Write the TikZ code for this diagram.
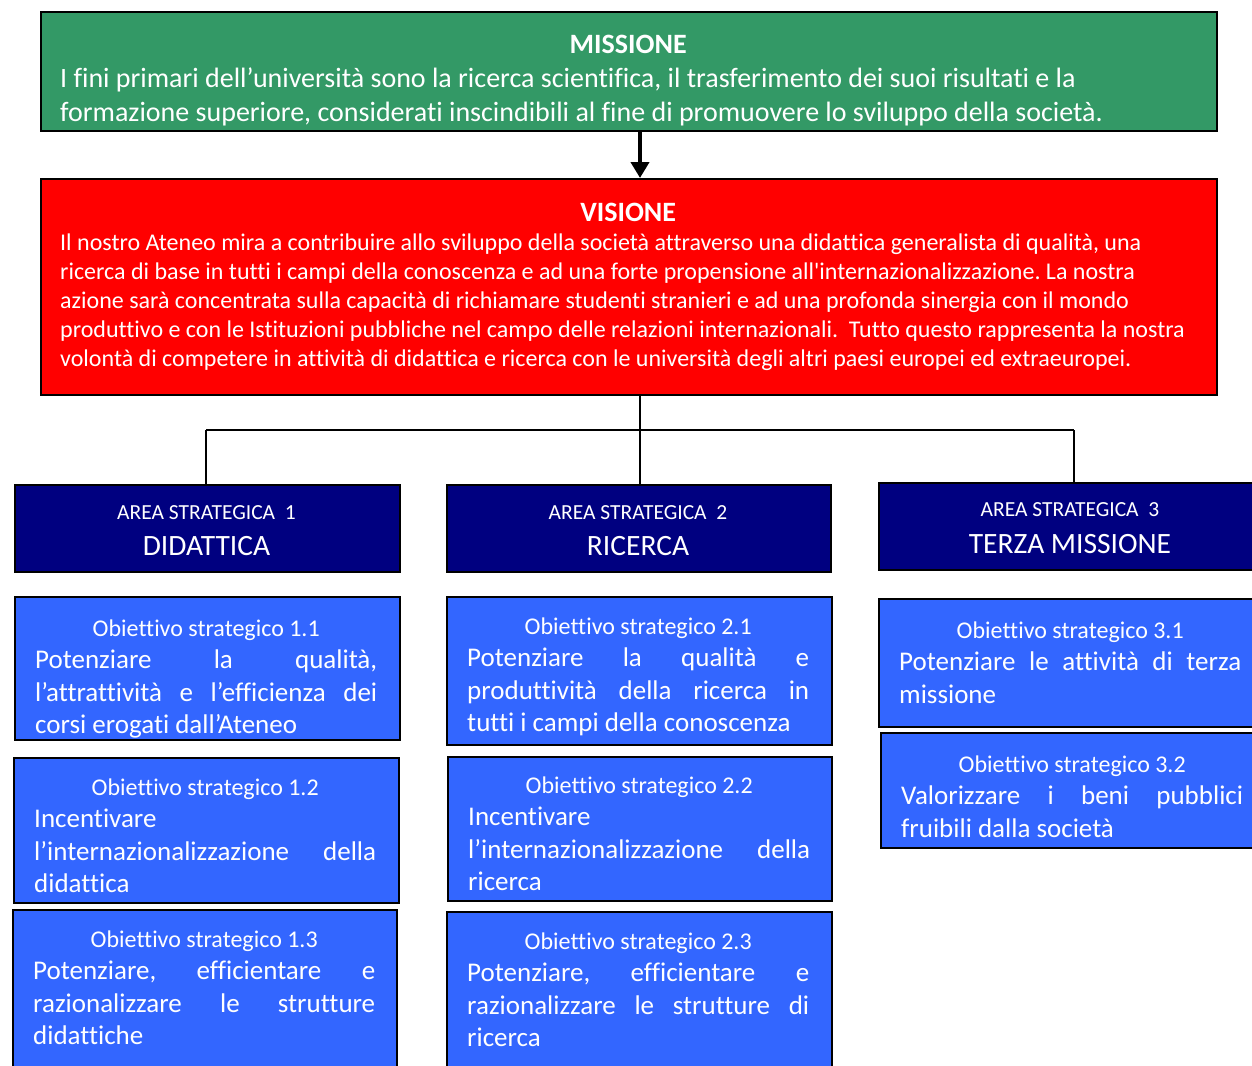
\documentclass[tikz,border=0pt]{standalone}
\usepackage{fontspec}
\setmainfont{Carlito}[Ligatures={TeXOff,NoCommon}]
\usetikzlibrary{arrows.meta,shadows}
\frenchspacing
\definecolor{mgreen}{RGB}{51,153,102}
\definecolor{vred}{RGB}{255,0,0}
\definecolor{navyb}{RGB}{0,0,128}
\definecolor{oblue}{RGB}{51,102,255}
\newcommand\jline[1]{\makebox[\linewidth][s]{#1}\par}
\newcommand\lline[1]{\makebox[\linewidth][l]{#1}\par}
\newcommand\objtext[2]{\parbox[t]{342pt}{\fontsize{24}{32.5}\selectfont\centering #1\par\fontsize{27}{32.5}\selectfont\raggedright #2}}
\tikzset{
  x=1pt,y=-1pt,
  boxbase/.style={draw=black,line width=1.8pt,inner sep=0pt,anchor=north west,
    drop shadow={shadow xshift=1.5pt,shadow yshift=-1.5pt,fill=black,opacity=0.35}},
  misbox/.style={boxbase,fill=mgreen},
  visbox/.style={boxbase,fill=vred},
  areabox/.style={boxbase,fill=navyb},
  objbox/.style={boxbase,fill=oblue},
  txt/.style={inner sep=0pt,text=white,anchor=base west},
  areasmall/.style={inner sep=0pt,text=white,anchor=base,font=\fontsize{21.5}{24}\selectfont},
  areabig/.style={inner sep=0pt,text=white,anchor=base,font=\fontsize{29.5}{32}\selectfont},
  conn/.style={line width=1.8pt,draw=black}
}
\begin{document}
\begin{tikzpicture}
\useasboundingbox (0,0) rectangle (1252,1065);
\clip (0,0) rectangle (1252,1065);
\fill[white] (0,0) rectangle (1252,1065);

% MISSIONE
\node[misbox,minimum width=1176pt,minimum height=119pt] (mis) at (40,11) {};
\node[txt] (mist) at (60,53) {\parbox[t]{1136pt}{\fontsize{28}{34}\selectfont
  \centering\textbf{MISSIONE}\par\raggedright
  I fini primari dell’università sono la ricerca scientifica, il trasferimento dei suoi risultati e la\par
  formazione superiore, considerati inscindibili al fine di promuovere lo sviluppo della società.\par}};

% VISIONE
\node[visbox,minimum width=1176pt,minimum height=216pt] (vis) at (40,178) {};
\node[txt] (vist) at (60,221) {\parbox[t]{1150pt}{\fontsize{24}{29}\selectfont
  \makebox[1136pt][c]{\fontsize{28}{29}\selectfont\textbf{VISIONE}}\par\raggedright
  Il nostro Ateneo mira a contribuire allo sviluppo della società attraverso una didattica generalista di qualità, una\par
  ricerca di base in tutti i campi della conoscenza e ad una forte propensione all'internazionalizzazione. La nostra\par
  azione sarà concentrata sulla capacità di richiamare studenti stranieri e ad una profonda sinergia con il mondo\par
  produttivo e con le Istituzioni pubbliche nel campo delle relazioni internazionali.\ \ Tutto questo rappresenta la nostra\par
  volontà di competere in attività di didattica e ricerca con le università degli altri paesi europei ed extraeuropei.\par}};

\coordinate (ax) at (640,0);
\coordinate (j1) at (206,430);
\coordinate (j3) at (1074,430);

% AREE
\node[areabox,minimum width=385pt,minimum height=87pt] (a1) at (14,484) {};
\node[areabox,minimum width=384pt,minimum height=87pt] (a2) at (446,484) {};
\node[areabox,minimum width=384pt,minimum height=87pt] (a3) at (878,482) {};
\node[areasmall] (a1s) at (206.5,519) {AREA STRATEGICA\ \ 1};
\node[areabig] (a1b) at (206.5,555) {DIDATTICA};
\node[areasmall] (a2s) at (638,519) {AREA STRATEGICA\ \ 2};
\node[areabig] (a2b) at (638,555) {RICERCA};
\node[areasmall] (a3s) at (1070,516) {AREA STRATEGICA\ \ 3};
\node[areabig] (a3b) at (1070,553) {TERZA MISSIONE};

% connectors
\draw[line width=4pt,-{Triangle[width=18pt,length=16pt]}] (mis.south -| ax) -- (vis.north -| ax);
\draw[conn] (vis.south -| ax) -- (a2.north -| ax);
\draw[conn] (j1) -- (j3);
\draw[conn] (j1) -- (a1.north -| j1);
\draw[conn] (j3) -- (a3.north -| j3);

% OBIETTIVI colonna 1
\node[objbox,minimum width=385pt,minimum height=143pt] (o11) at (14,596) {};
\node[txt] (o11t) at (35,636) {\objtext{Obiettivo strategico 1.1}{%
  \jline{Potenziare la qualità,}\jline{l’attrattività e l’efficienza dei}\lline{corsi erogati dall’Ateneo}}};
\node[objbox,minimum width=385pt,minimum height=145pt] (o12) at (13,757) {};
\node[txt] (o12t) at (34,795) {\objtext{Obiettivo strategico 1.2}{%
  \lline{Incentivare}\jline{l’internazionalizzazione della}\lline{didattica}}};
\node[objbox,minimum width=384pt,minimum height=180pt] (o13) at (12,909) {};
\node[txt] (o13t) at (33,947) {\objtext{Obiettivo strategico 1.3}{%
  \jline{Potenziare, efficientare e}\jline{razionalizzare le strutture}\lline{didattiche}}};

% colonna 2
\node[objbox,minimum width=385pt,minimum height=148pt] (o21) at (446,596) {};
\node[txt] (o21t) at (467,634) {\objtext{Obiettivo strategico 2.1}{%
  \jline{Potenziare la qualità e}\jline{produttività della ricerca in}\lline{tutti i campi della conoscenza}}};
\node[objbox,minimum width=384pt,minimum height=144pt] (o22) at (447,756) {};
\node[txt] (o22t) at (468,793) {\objtext{Obiettivo strategico 2.2}{%
  \lline{Incentivare}\jline{l’internazionalizzazione della}\lline{ricerca}}};
\node[objbox,minimum width=385pt,minimum height=180pt] (o23) at (446,911) {};
\node[txt] (o23t) at (467,949) {\objtext{Obiettivo strategico 2.3}{%
  \jline{Potenziare, efficientare e}\jline{razionalizzare le strutture di}\lline{ricerca}}};

% colonna 3
\node[objbox,minimum width=384pt,minimum height=128pt] (o31) at (878,598) {};
\node[txt] (o31t) at (899,638) {\objtext{Obiettivo strategico 3.1}{%
  \jline{Potenziare le attività di terza}\lline{missione}}};
\node[objbox,minimum width=384pt,minimum height=115pt] (o32) at (880,732) {};
\node[txt] (o32t) at (901,772) {\objtext{Obiettivo strategico 3.2}{%
  \jline{Valorizzare i beni pubblici}\lline{fruibili dalla società}}};
\end{tikzpicture}
\end{document}
